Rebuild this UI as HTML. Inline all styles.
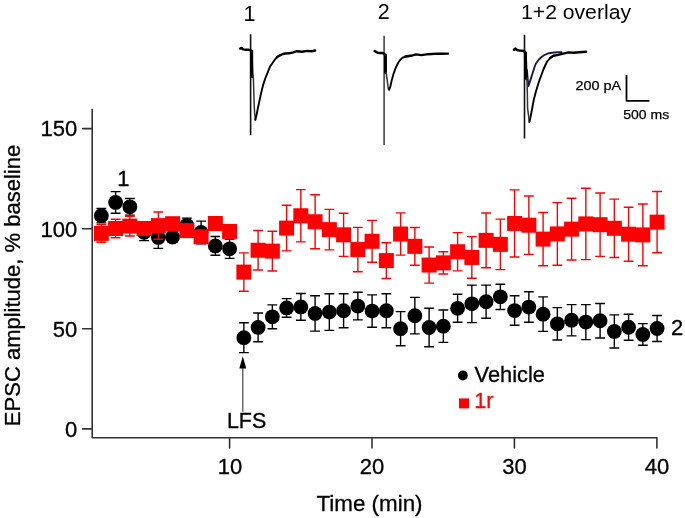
<!DOCTYPE html>
<html><head><meta charset="utf-8"><style>
html,body{margin:0;padding:0;background:#fff;width:685px;height:518px;overflow:hidden}
svg{display:block;will-change:transform}
</style></head><body>
<svg width="685" height="518" viewBox="0 0 685 518">
<rect width="685" height="518" fill="#fff"/>

<g stroke="#333" stroke-width="1.6" fill="none" stroke-linejoin="round" stroke-linecap="round">
<path d="M92.2 109.2V437.7H656.9V447.9"/>
<path d="M82.7 128.6H92.2M82.7 228.7H92.2M82.7 328.8H92.2M82.7 428.9H92.2"/>
<path d="M229.6 437.6V447.9M372 437.6V447.9M514.4 437.6V447.9"/>
</g>

<g stroke="#000" stroke-width="1.4" fill="none"><path d="M101.35 208.50V222.90M96.45 208.50H106.25M96.45 222.90H106.25"/><path d="M115.60 191.60V213.20M110.70 191.60H120.50M110.70 213.20H120.50"/><path d="M129.85 198.50V215.10M124.95 198.50H134.75M124.95 215.10H134.75"/><path d="M144.10 224.00V240.60M139.20 224.00H149.00M139.20 240.60H149.00"/><path d="M158.35 226.40V248.40M153.45 226.40H163.25M153.45 248.40H163.25"/><path d="M172.60 232.00V242.00M167.70 232.00H177.50M167.70 242.00H177.50"/><path d="M186.85 218.10V232.30M181.95 218.10H191.75M181.95 232.30H191.75"/><path d="M201.10 221.10V243.70M196.20 221.10H206.00M196.20 243.70H206.00"/><path d="M215.35 236.55V255.25M210.45 236.55H220.25M210.45 255.25H220.25"/><path d="M229.60 239.20V258.40M224.70 239.20H234.50M224.70 258.40H234.50"/><path d="M243.85 322.80V352.60M238.95 322.80H248.75M238.95 352.60H248.75"/><path d="M258.10 313.00V341.80M253.20 313.00H263.00M253.20 341.80H263.00"/><path d="M272.35 304.90V328.80M267.45 304.90H277.25M267.45 328.80H277.25"/><path d="M286.60 298.60V317.20M281.70 298.60H291.50M281.70 317.20H291.50"/><path d="M300.85 293.50V320.30M295.95 293.50H305.75M295.95 320.30H305.75"/><path d="M315.10 295.80V331.10M310.20 295.80H320.00M310.20 331.10H320.00"/><path d="M329.35 293.80V330.40M324.45 293.80H334.25M324.45 330.40H334.25"/><path d="M343.60 293.80V327.70M338.70 293.80H348.50M338.70 327.70H348.50"/><path d="M357.85 292.20V319.90M352.95 292.20H362.75M352.95 319.90H362.75"/><path d="M372.10 294.90V327.30M367.20 294.90H377.00M367.20 327.30H377.00"/><path d="M386.35 293.80V327.70M381.45 293.80H391.25M381.45 327.70H391.25"/><path d="M400.60 311.60V345.80M395.70 311.60H405.50M395.70 345.80H405.50"/><path d="M414.85 297.40V333.90M409.95 297.40H419.75M409.95 333.90H419.75"/><path d="M429.10 308.20V346.80M424.20 308.20H434.00M424.20 346.80H434.00"/><path d="M443.35 310.00V342.40M438.45 310.00H448.25M438.45 342.40H448.25"/><path d="M457.60 294.30V322.30M452.70 294.30H462.50M452.70 322.30H462.50"/><path d="M471.85 285.10V322.60M466.95 285.10H476.75M466.95 322.60H476.75"/><path d="M486.10 285.10V318.20M481.20 285.10H491.00M481.20 318.20H491.00"/><path d="M500.35 284.20V309.50M495.45 284.20H505.25M495.45 309.50H505.25"/><path d="M514.60 295.80V325.30M509.70 295.80H519.50M509.70 325.30H519.50"/><path d="M528.85 291.80V322.30M523.95 291.80H533.75M523.95 322.30H533.75"/><path d="M543.10 296.90V331.40M538.20 296.90H548.00M538.20 331.40H548.00"/><path d="M557.35 307.60V340.00M552.45 307.60H562.25M552.45 340.00H562.25"/><path d="M571.60 304.60V335.90M566.70 304.60H576.50M566.70 335.90H576.50"/><path d="M585.85 304.60V339.60M580.95 304.60H590.75M580.95 339.60H590.75"/><path d="M600.10 303.50V338.00M595.20 303.50H605.00M595.20 338.00H605.00"/><path d="M614.35 314.90V348.00M609.45 314.90H619.25M609.45 348.00H619.25"/><path d="M628.60 314.20V340.30M623.70 314.20H633.50M623.70 340.30H633.50"/><path d="M642.85 323.60V345.30M637.95 323.60H647.75M637.95 345.30H647.75"/><path d="M657.10 315.50V341.50M652.20 315.50H662.00M652.20 341.50H662.00"/></g>
<g fill="#000"><circle cx="101.35" cy="215.70" r="7.4"/><circle cx="115.60" cy="202.40" r="7.4"/><circle cx="129.85" cy="206.80" r="7.4"/><circle cx="144.10" cy="232.30" r="7.4"/><circle cx="158.35" cy="237.40" r="7.4"/><circle cx="172.60" cy="237.00" r="7.4"/><circle cx="186.85" cy="225.20" r="7.4"/><circle cx="201.10" cy="232.40" r="7.4"/><circle cx="215.35" cy="245.90" r="7.4"/><circle cx="229.60" cy="248.80" r="7.4"/><circle cx="243.85" cy="337.70" r="7.4"/><circle cx="258.10" cy="327.40" r="7.4"/><circle cx="272.35" cy="316.85" r="7.4"/><circle cx="286.60" cy="307.90" r="7.4"/><circle cx="300.85" cy="306.90" r="7.4"/><circle cx="315.10" cy="313.45" r="7.4"/><circle cx="329.35" cy="312.10" r="7.4"/><circle cx="343.60" cy="310.75" r="7.4"/><circle cx="357.85" cy="306.05" r="7.4"/><circle cx="372.10" cy="311.10" r="7.4"/><circle cx="386.35" cy="310.75" r="7.4"/><circle cx="400.60" cy="328.70" r="7.4"/><circle cx="414.85" cy="315.65" r="7.4"/><circle cx="429.10" cy="327.50" r="7.4"/><circle cx="443.35" cy="326.20" r="7.4"/><circle cx="457.60" cy="308.30" r="7.4"/><circle cx="471.85" cy="303.85" r="7.4"/><circle cx="486.10" cy="301.65" r="7.4"/><circle cx="500.35" cy="296.85" r="7.4"/><circle cx="514.60" cy="310.55" r="7.4"/><circle cx="528.85" cy="307.05" r="7.4"/><circle cx="543.10" cy="314.15" r="7.4"/><circle cx="557.35" cy="323.80" r="7.4"/><circle cx="571.60" cy="320.25" r="7.4"/><circle cx="585.85" cy="322.10" r="7.4"/><circle cx="600.10" cy="320.75" r="7.4"/><circle cx="614.35" cy="331.45" r="7.4"/><circle cx="628.60" cy="327.25" r="7.4"/><circle cx="642.85" cy="334.45" r="7.4"/><circle cx="657.10" cy="328.50" r="7.4"/></g>
<g stroke="#f00" stroke-width="1.4" fill="none"><path d="M101.35 224.60V242.20M96.45 224.60H106.25M96.45 242.20H106.25"/><path d="M115.60 219.30V237.70M110.70 219.30H120.50M110.70 237.70H120.50"/><path d="M129.85 216.20V236.00M124.95 216.20H134.75M124.95 236.00H134.75"/><path d="M144.10 223.50V233.50M139.20 223.50H149.00M139.20 233.50H149.00"/><path d="M158.35 212.00V239.20M153.45 212.00H163.25M153.45 239.20H163.25"/><path d="M172.60 218.70V228.70M167.70 218.70H177.50M167.70 228.70H177.50"/><path d="M186.85 225.60V235.60M181.95 225.60H191.75M181.95 235.60H191.75"/><path d="M201.10 231.80V241.80M196.20 231.80H206.00M196.20 241.80H206.00"/><path d="M215.35 218.50V228.50M210.45 218.50H220.25M210.45 228.50H220.25"/><path d="M229.60 226.40V236.40M224.70 226.40H234.50M224.70 236.40H234.50"/><path d="M243.85 252.90V291.30M238.95 252.90H248.75M238.95 291.30H248.75"/><path d="M258.10 230.50V270.00M253.20 230.50H263.00M253.20 270.00H263.00"/><path d="M272.35 231.20V271.00M267.45 231.20H277.25M267.45 271.00H277.25"/><path d="M286.60 205.30V250.90M281.70 205.30H291.50M281.70 250.90H291.50"/><path d="M300.85 189.60V241.90M295.95 189.60H305.75M295.95 241.90H305.75"/><path d="M315.10 194.70V248.80M310.20 194.70H320.00M310.20 248.80H320.00"/><path d="M329.35 209.40V249.90M324.45 209.40H334.25M324.45 249.90H334.25"/><path d="M343.60 213.20V256.40M338.70 213.20H348.50M338.70 256.40H348.50"/><path d="M357.85 227.40V271.70M352.95 227.40H362.75M352.95 271.70H362.75"/><path d="M372.10 220.40V262.20M367.20 220.40H377.00M367.20 262.20H377.00"/><path d="M386.35 242.70V278.50M381.45 242.70H391.25M381.45 278.50H391.25"/><path d="M400.60 212.90V255.10M395.70 212.90H405.50M395.70 255.10H405.50"/><path d="M414.85 227.50V265.20M409.95 227.50H419.75M409.95 265.20H419.75"/><path d="M429.10 247.00V283.10M424.20 247.00H434.00M424.20 283.10H434.00"/><path d="M443.35 251.70V274.00M438.45 251.70H448.25M438.45 274.00H448.25"/><path d="M457.60 232.60V270.90M452.70 232.60H462.50M452.70 270.90H462.50"/><path d="M471.85 236.60V278.30M466.95 236.60H476.75M466.95 278.30H476.75"/><path d="M486.10 213.00V267.70M481.20 213.00H491.00M481.20 267.70H491.00"/><path d="M500.35 219.10V269.60M495.45 219.10H505.25M495.45 269.60H505.25"/><path d="M514.60 189.90V257.00M509.70 189.90H519.50M509.70 257.00H519.50"/><path d="M528.85 196.00V254.40M523.95 196.00H533.75M523.95 254.40H533.75"/><path d="M543.10 212.50V265.70M538.20 212.50H548.00M538.20 265.70H548.00"/><path d="M557.35 202.60V265.20M552.45 202.60H562.25M552.45 265.20H562.25"/><path d="M571.60 198.30V260.00M566.70 198.30H576.50M566.70 260.00H576.50"/><path d="M585.85 188.20V259.60M580.95 188.20H590.75M580.95 259.60H590.75"/><path d="M600.10 193.00V256.40M595.20 193.00H605.00M595.20 256.40H605.00"/><path d="M614.35 199.10V257.50M609.45 199.10H619.25M609.45 257.50H619.25"/><path d="M628.60 207.20V261.20M623.70 207.20H633.50M623.70 261.20H633.50"/><path d="M642.85 204.00V265.80M637.95 204.00H647.75M637.95 265.80H647.75"/><path d="M657.10 191.50V252.80M652.20 191.50H662.00M652.20 252.80H662.00"/></g>
<g fill="#f00"><rect x="93.85" y="225.90" width="15.0" height="15.0"/><rect x="108.10" y="221.00" width="15.0" height="15.0"/><rect x="122.35" y="218.60" width="15.0" height="15.0"/><rect x="136.60" y="221.00" width="15.0" height="15.0"/><rect x="150.85" y="218.10" width="15.0" height="15.0"/><rect x="165.10" y="216.20" width="15.0" height="15.0"/><rect x="179.35" y="223.10" width="15.0" height="15.0"/><rect x="193.60" y="229.30" width="15.0" height="15.0"/><rect x="207.85" y="216.00" width="15.0" height="15.0"/><rect x="222.10" y="223.90" width="15.0" height="15.0"/><rect x="236.35" y="264.60" width="15.0" height="15.0"/><rect x="250.60" y="242.75" width="15.0" height="15.0"/><rect x="264.85" y="243.60" width="15.0" height="15.0"/><rect x="279.10" y="220.60" width="15.0" height="15.0"/><rect x="293.35" y="208.25" width="15.0" height="15.0"/><rect x="307.60" y="214.25" width="15.0" height="15.0"/><rect x="321.85" y="222.15" width="15.0" height="15.0"/><rect x="336.10" y="227.30" width="15.0" height="15.0"/><rect x="350.35" y="242.05" width="15.0" height="15.0"/><rect x="364.60" y="233.80" width="15.0" height="15.0"/><rect x="378.85" y="253.10" width="15.0" height="15.0"/><rect x="393.10" y="226.50" width="15.0" height="15.0"/><rect x="407.35" y="238.85" width="15.0" height="15.0"/><rect x="421.60" y="257.55" width="15.0" height="15.0"/><rect x="435.85" y="255.35" width="15.0" height="15.0"/><rect x="450.10" y="244.25" width="15.0" height="15.0"/><rect x="464.35" y="249.95" width="15.0" height="15.0"/><rect x="478.60" y="232.85" width="15.0" height="15.0"/><rect x="492.85" y="236.85" width="15.0" height="15.0"/><rect x="507.10" y="215.95" width="15.0" height="15.0"/><rect x="521.35" y="217.70" width="15.0" height="15.0"/><rect x="535.60" y="231.60" width="15.0" height="15.0"/><rect x="549.85" y="226.40" width="15.0" height="15.0"/><rect x="564.10" y="221.65" width="15.0" height="15.0"/><rect x="578.35" y="216.40" width="15.0" height="15.0"/><rect x="592.60" y="217.20" width="15.0" height="15.0"/><rect x="606.85" y="220.80" width="15.0" height="15.0"/><rect x="621.10" y="226.70" width="15.0" height="15.0"/><rect x="635.35" y="227.40" width="15.0" height="15.0"/><rect x="649.60" y="214.65" width="15.0" height="15.0"/></g>

<g font-family="'Liberation Sans', sans-serif" font-size="22" fill="#000" stroke="#000" stroke-width="0.3">
<text x="77.3" y="136.4" text-anchor="end">150</text>
<text x="77.3" y="236.6" text-anchor="end">100</text>
<text x="77.3" y="336.7" text-anchor="end">50</text>
<text x="77.3" y="437.0" text-anchor="end">0</text>
<text x="230.1" y="473.5" text-anchor="middle">10</text>
<text x="372" y="473.5" text-anchor="middle">20</text>
<text x="514.4" y="473.5" text-anchor="middle">30</text>
<text x="656.9" y="473.5" text-anchor="middle">40</text>
<text x="369.5" y="511" text-anchor="middle" font-size="22.4">Time (min)</text>
<text transform="translate(19.6 285.5) rotate(-90)" text-anchor="middle">EPSC amplitude, % baseline</text>
<text x="123.3" y="186" text-anchor="middle">1</text>
<text x="677" y="335" text-anchor="middle">2</text>
<text x="246.6" y="428" text-anchor="middle" font-size="21.5">LFS</text>
<text x="474.6" y="382.2" font-size="21.8">Vehicle</text>
<text x="474.2" y="407.9" font-size="21.8" fill="#f00" stroke="#f00">1r</text>
</g>
<circle cx="462.9" cy="375.5" r="4.9" fill="#000"/>
<rect x="459" y="398.4" width="10" height="10" fill="#f00"/>
<g stroke="#555" stroke-width="1.3"><path d="M242.8 366V411.7"/></g>
<path d="M242.8 356.2L239.3 368.5H246.3Z" fill="#000"/>


<g fill="none" stroke-linejoin="round" stroke-linecap="round">
<path d="M250.6 34.3V135.2M524.5 34.7V138.4" stroke="#111" stroke-width="1.6" stroke-linecap="butt"/><path d="M384.1 35.7V144.9" stroke="#3a3a3a" stroke-width="1.5" stroke-linecap="butt"/>
<path d="M251.8 50.5V77M385.4 54.5V72.8M525.6 52.4V78.9" stroke="#000" stroke-width="2.8" stroke-linecap="butt"/>
<path d="M240.2 48.6 L241.5 47.9 L243.0 49.4 L246.0 49.7 L248.7 49.8 L250.5 50.4 L251.5 51.0 L252.3 77.0" stroke="#000" stroke-width="2.4"/>
<path d="M253.3 76.0 L253.6 85.0 L253.9 95.0 L254.2 105.0 L254.6 113.0 L255.4 119.8" stroke="#333" stroke-width="1.5"/>
<path d="M255.4 119.8 L256.6 114.5 L257.6 109.6 L258.7 104.5 L259.8 99.3 L260.8 94.5 L261.9 89.8 L263.0 85.5 L264.2 81.5 L265.6 77.5 L267.2 73.7 L268.6 70.2 L269.9 66.8 L272.0 63.7 L274.4 60.2 L277.2 57.0 L280.0 55.3" stroke="#000" stroke-width="1.9"/>
<path d="M277.2 57.0 L280.0 55.3 L282.8 54.0 L285.6 53.5 L288.8 53.3 L293.3 52.3 L296.8 51.2 L302.0 51.8 L307.3 50.9 L311.7 51.2 L315.2 50.5" stroke="#000" stroke-width="2.4"/>
<path d="M374.6 51.0 L376.0 51.8 L377.5 52.7 L380.0 52.9 L382.3 53.0 L383.8 53.6 L385.4 55.0 L385.6 72.8" stroke="#000" stroke-width="2.5"/>
<path d="M386.1 72.8 L387.4 81.6 L388.4 89.1 L389.1 89.7" stroke="#333" stroke-width="1.5"/>
<path d="M389.1 89.7 L390.3 86.9 L391.7 80.4 L393.5 73.9 L395.9 67.4 L398.6 62.0 L400.5 59.6 L402.3 57.8 L405.5 56.5 L410.8 55.8" stroke="#000" stroke-width="1.9"/>
<path d="M405.5 56.5 L410.8 55.8 L416.0 54.4 L421.3 55.1 L426.5 54.4 L431.8 54.0 L437.0 53.6 L442.3 53.8 L448.0 53.6" stroke="#000" stroke-width="2.4"/>
<path d="M526.9 70.0 L527.8 80.0 L528.5 86.0 L529.5 83.0 L530.6 79.6 L532.0 75.0 L533.3 71.0 L534.7 66.5 L536.1 63.2 L538.9 59.5 L541.8 56.8 L544.5 55.0 L547.0 53.9 L549.1 53.2 L552.0 52.7 L557.1 52.3 L561.5 52.3" stroke="#1e1845" stroke-width="1.9"/>
<path d="M514.0 49.6 L515.5 48.6 L517.0 50.0 L519.5 50.5 L522.0 50.7 L524.0 51.0 L525.5 52.5 L526.4 78.9" stroke="#000" stroke-width="2.6"/>
<path d="M527.0 78.0 L527.4 95.0 L527.6 108.3 L529.4 122.1" stroke="#333" stroke-width="1.5"/>
<path d="M529.4 122.1 L530.6 116.8 L532.2 108.3 L533.8 99.8 L536.0 91.3 L538.6 82.8 L541.3 75.3 L543.2 70.0 L544.5 67.0 L547.1 61.5 L550.1 58.0 L553.6 55.8" stroke="#000" stroke-width="1.9"/>
<path d="M550.1 58.0 L553.6 55.8 L558.0 54.9 L563.3 53.6 L568.5 52.4 L573.8 52.7 L579.0 52.3 L586.0 51.8" stroke="#000" stroke-width="2.4"/>
<path d="M626.5 75.1V100.8H649.5" stroke="#000" stroke-width="1.8" stroke-linecap="butt"/>
</g>
<g font-family="'Liberation Sans', sans-serif" fill="#000">
<text x="243.6" y="20.8" font-size="21.5">1</text>
<text x="377.8" y="19.1" font-size="21.5">2</text>
<text x="521" y="18.8" font-size="20.5" textLength="110" lengthAdjust="spacingAndGlyphs">1+2 overlay</text>
<text x="575.6" y="90.2" font-size="13.4" textLength="45.6" lengthAdjust="spacingAndGlyphs" stroke="#000" stroke-width="0.25">200 pA</text>
<text x="623.2" y="118.8" font-size="13.6" textLength="46" lengthAdjust="spacingAndGlyphs" stroke="#000" stroke-width="0.25">500 ms</text>
</g>

</svg>
</body></html>
